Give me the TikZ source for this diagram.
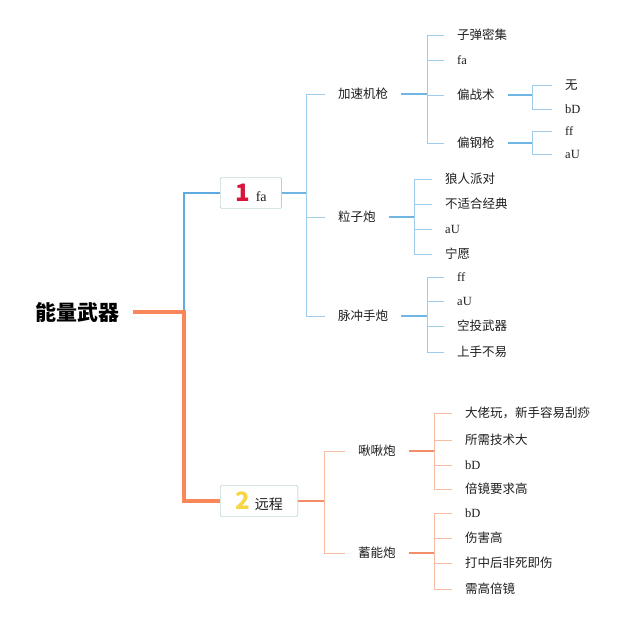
\documentclass[tikz,border=0pt]{standalone}
\usepackage{fontspec}
\setmainfont{Liberation Serif}
\newfontfamily\cjk{Noto Sans CJK SC}
\definecolor{textgray}{RGB}{30,30,30}
\definecolor{blueA}{RGB}{93,171,226}
\definecolor{blueB}{RGB}{112,182,228}
\definecolor{blueC}{RGB}{160,204,236}
\definecolor{orangeA}{RGB}{250,135,90}
\definecolor{orangeB}{RGB}{244,142,104}
\definecolor{orangeC}{RGB}{248,188,162}
\definecolor{boxline}{RGB}{145,188,176}
\definecolor{onered}{RGB}{214,20,60}
\definecolor{twoyellow}{RGB}{245,214,70}
\begin{document}
\begin{tikzpicture}[x=1pt,y=-1pt]
	\tikzstyle{every node}+=[inner ysep=0pt, inner xsep=13pt, text height=9.5pt, text depth=0pt, text=textgray, font=\fontsize{12.5}{14}\selectfont]
	\tikzstyle{topic}=[anchor=west]
	\tikzstyle{catbox}=[anchor=west, draw=boxline, fill=white, rounded corners=1.5pt, minimum height=31pt, inner xsep=15pt, text height=16.5pt, font=\fontsize{14}{16}\selectfont]
	\tikzstyle{bluemain}=[blueB, line width=1.5pt]
	\tikzstyle{bluebar}=[blueC, line width=1pt]
	\tikzstyle{orangemain}=[orangeB, line width=1.5pt]
	\tikzstyle{orangebar}=[orangeC, line width=1pt]
	\useasboundingbox (0,0) rectangle (640,625);
	\node [anchor=east, text height=16pt, text=black, font=\fontsize{21}{24}\selectfont\cjk\bfseries] (nengliang) at (133,312) {能量武器};
	\node [catbox] (fa) at (220,193) {{\cjk\bfseries\fontsize{24}{24}\selectfont\color{onered}1}\hspace{6pt}fa};
	\node [catbox] (yuancheng) at (220,501) {{\cjk\bfseries\fontsize{24}{24}\selectfont\color{twoyellow}2}\hspace{5pt}{\cjk 远程}};
	\node [topic] (jiasu) at (325,94) {\cjk 加速机枪};
	\node [topic] (lizi) at (325,217) {\cjk 粒子炮};
	\node [topic] (maichong) at (325,316) {\cjk 脉冲手炮};
	\node [topic] (jiujiu) at (345,451) {\cjk 啾啾炮};
	\node [topic] (xuneng) at (345,553) {\cjk 蓄能炮};
	\node [topic] (jiasu1) at (444,35) {\cjk 子弹密集};
	\node [topic] (jiasu2) at (444,60) {fa};
	\node [topic] (pianzhan) at (444,95) {\cjk 偏战术};
	\node [topic] (piangang) at (444,143) {\cjk 偏钢枪};
	\node [topic] (pianzhan1) at (552,85) {\cjk 无};
	\node [topic] (pianzhan2) at (552,109) {bD};
	\node [topic] (piangang1) at (552,131) {ff};
	\node [topic] (piangang2) at (552,154) {aU};
	\node [topic] (lizi1) at (432,179) {\cjk 狼人派对};
	\node [topic] (lizi2) at (432,204) {\cjk 不适合经典};
	\node [topic] (lizi3) at (432,229) {aU};
	\node [topic] (lizi4) at (432,254) {\cjk 宁愿};
	\node [topic] (maichong1) at (444,277) {ff};
	\node [topic] (maichong2) at (444,301) {aU};
	\node [topic] (maichong3) at (444,326) {\cjk 空投武器};
	\node [topic] (maichong4) at (444,352) {\cjk 上手不易};
	\node [topic] (jiujiu1) at (452,413) {\cjk 大佬玩，新手容易刮痧};
	\node [topic] (jiujiu2) at (452,440) {\cjk 所需技术大};
	\node [topic] (jiujiu3) at (452,465) {bD};
	\node [topic] (jiujiu4) at (452,489) {\cjk 倍镜要求高};
	\node [topic] (xuneng1) at (452,513) {bD};
	\node [topic] (xuneng2) at (452,538) {\cjk 伤害高};
	\node [topic] (xuneng3) at (452,563) {\cjk 打中后非死即伤};
	\node [topic] (xuneng4) at (452,589) {\cjk 需高倍镜};
	\path (nengliang.east) -- ++(51,0) coordinate (rootbar);
	\draw [blueA, line width=1.5pt] (rootbar) |- (fa.west);
	\draw [orangeA, line width=4pt] (nengliang.east) -- (rootbar) |- (yuancheng.west);
	\draw [bluemain] (fa.east) -- ++(25,0) coordinate (fabar);
	\draw [bluebar] (fabar) |- (jiasu.west);
	\draw [bluebar] (fabar) |- (lizi.west);
	\draw [bluebar] (fabar) |- (maichong.west);
	\draw [bluemain] (jiasu.east) -- ++(26,0) coordinate (jiasubar);
	\draw [bluebar] (jiasubar) |- (jiasu1.west);
	\draw [bluebar] (jiasubar) |- (jiasu2.west);
	\draw [bluebar] (jiasubar) |- (pianzhan.west);
	\draw [bluebar] (jiasubar) |- (piangang.west);
	\draw [bluemain] (pianzhan.east) -- ++(25,0) coordinate (pianzhanbar);
	\draw [bluebar] (pianzhanbar) |- (pianzhan1.west);
	\draw [bluebar] (pianzhanbar) |- (pianzhan2.west);
	\draw [bluemain] (piangang.east) -- ++(25,0) coordinate (pianggangbar);
	\draw [bluebar] (pianggangbar) |- (piangang1.west);
	\draw [bluebar] (pianggangbar) |- (piangang2.west);
	\draw [bluemain] (lizi.east) -- ++(26,0) coordinate (lizibar);
	\draw [bluebar] (lizibar) |- (lizi1.west);
	\draw [bluebar] (lizibar) |- (lizi2.west);
	\draw [bluebar] (lizibar) |- (lizi3.west);
	\draw [bluebar] (lizibar) |- (lizi4.west);
	\draw [bluemain] (maichong.east) -- ++(26,0) coordinate (maichongbar);
	\draw [bluebar] (maichongbar) |- (maichong1.west);
	\draw [bluebar] (maichongbar) |- (maichong2.west);
	\draw [bluebar] (maichongbar) |- (maichong3.west);
	\draw [bluebar] (maichongbar) |- (maichong4.west);
	\draw [orangemain] (yuancheng.east) -- ++(26,0) coordinate (yuanchengbar);
	\draw [orangebar] (yuanchengbar) |- (jiujiu.west);
	\draw [orangebar] (yuanchengbar) |- (xuneng.west);
	\draw [orangemain] (jiujiu.east) -- ++(26,0) coordinate (jiujiubar);
	\draw [orangebar] (jiujiubar) |- (jiujiu1.west);
	\draw [orangebar] (jiujiubar) |- (jiujiu2.west);
	\draw [orangebar] (jiujiubar) |- (jiujiu3.west);
	\draw [orangebar] (jiujiubar) |- (jiujiu4.west);
	\draw [orangemain] (xuneng.east) -- ++(26,0) coordinate (xunengbar);
	\draw [orangebar] (xunengbar) |- (xuneng1.west);
	\draw [orangebar] (xunengbar) |- (xuneng2.west);
	\draw [orangebar] (xunengbar) |- (xuneng3.west);
	\draw [orangebar] (xunengbar) |- (xuneng4.west);
\end{tikzpicture}
\end{document}
